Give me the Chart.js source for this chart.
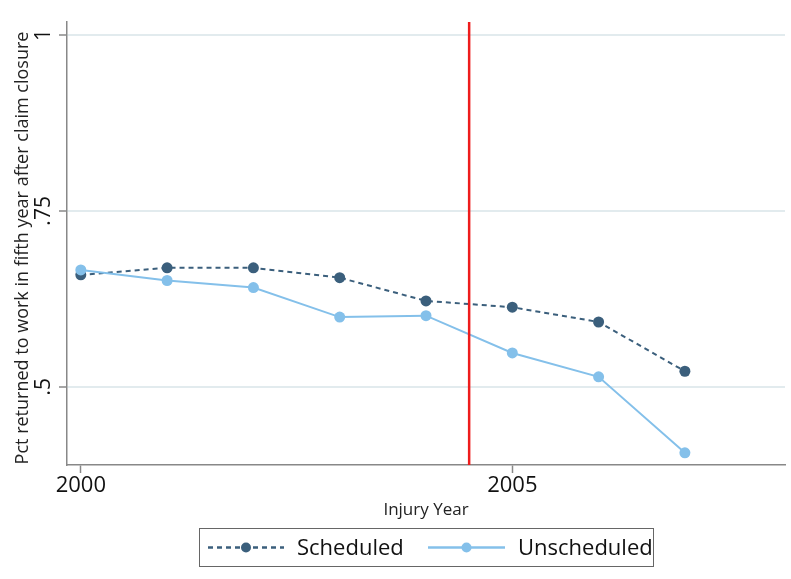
<!DOCTYPE html>
<html>
<head>
<meta charset="utf-8">
<script src="https://cdn.jsdelivr.net/npm/chart.js@4/dist/chart.umd.min.js"></script>
<style>
  body { margin: 0; background: #fff; }
  canvas { display: block; }
</style>
</head>
<body>
<canvas id="rtwChart" width="791" height="579"></canvas>
<script>
const years = [2000, 2001, 2002, 2003, 2004, 2005, 2006, 2007];
const scheduled = [0.659, 0.669, 0.669, 0.655, 0.622, 0.613, 0.592, 0.522];
const unscheduled = [0.666, 0.651, 0.641, 0.599, 0.601, 0.548, 0.514, 0.406];
const yTicks = [0.5, 0.75, 1];
const yTickLabels = ['.5', '.75', '1'];
const xTicks = [2000, 2005];
const cutoffYear = 2004.5;

const yMin = 0.3887, yMax = 1.0185;
const darkBlue = '#3b5f7c';
const lightBlue = '#84c0ea';
const FONT = '"Open Sans", "DejaVu Sans", sans-serif';

// rotated y tick labels, y title and the boxed legend
const extras = {
  id: 'extras',
  afterDraw(chart) {
    const ctx = chart.ctx;
    const y = chart.scales.y;
    ctx.save();
    ctx.fillStyle = '#111';
    ctx.textAlign = 'center';
    ctx.textBaseline = 'middle';
    ctx.font = '21px ' + FONT;
    yTicks.forEach((v, i) => {
      ctx.save();
      ctx.translate(44, y.getPixelForValue(v));
      ctx.rotate(-Math.PI / 2);
      ctx.fillText(yTickLabels[i], 0, 0);
      ctx.restore();
    });
    ctx.font = '18px ' + FONT;
    ctx.fillStyle = '#222';
    ctx.save();
    ctx.translate(23, 248);
    ctx.rotate(-Math.PI / 2);
    ctx.fillText('Pct returned to work in fifth year after claim closure', 0, 0);
    ctx.restore();

    // legend
    const box = { x: 199.5, y: 528.5, w: 454, h: 38 };
    ctx.strokeStyle = '#666';
    ctx.lineWidth = 1;
    ctx.strokeRect(box.x, box.y, box.w, box.h);
    const cy = box.y + box.h / 2;
    const entries = [
      { label: 'Scheduled', color: darkBlue, dash: [5, 4], x0: 208, x1: 284, tx: 297 },
      { label: 'Unscheduled', color: lightBlue, dash: [], x0: 428, x1: 505, tx: 518 }
    ];
    entries.forEach(e => {
      ctx.strokeStyle = e.color;
      ctx.lineWidth = 2.5;
      ctx.setLineDash(e.dash);
      ctx.beginPath();
      ctx.moveTo(e.x0, cy);
      ctx.lineTo(e.x1, cy);
      ctx.stroke();
      ctx.setLineDash([]);
      ctx.fillStyle = e.color;
      ctx.beginPath();
      ctx.arc((e.x0 + e.x1) / 2, cy, 5, 0, Math.PI * 2);
      ctx.fill();
      ctx.fillStyle = '#111';
      ctx.textAlign = 'left';
      ctx.font = '22px ' + FONT;
      ctx.fillText(e.label, e.tx, cy + 1);
    });
    ctx.restore();
  }
};

new Chart(document.getElementById('rtwChart'), {
  type: 'line',
  data: {
    datasets: [
      {
        label: 'cutoff',
        data: [{ x: cutoffYear, y: yMin }, { x: cutoffYear, y: yMax }],
        borderColor: '#ee1c1c',
        borderWidth: 2.5,
        pointRadius: 0,
        order: 0
      },
      {
        label: 'Unscheduled',
        data: years.map((yr, i) => ({ x: yr, y: unscheduled[i] })),
        borderColor: lightBlue,
        backgroundColor: lightBlue,
        borderWidth: 2,
        pointRadius: 5.5,
        pointBorderWidth: 0,
        tension: 0,
        order: 1
      },
      {
        label: 'Scheduled',
        data: years.map((yr, i) => ({ x: yr, y: scheduled[i] })),
        borderColor: darkBlue,
        backgroundColor: darkBlue,
        borderWidth: 2,
        borderDash: [5, 4],
        pointRadius: 5.5,
        pointBorderWidth: 0,
        tension: 0,
        order: 2
      }
    ]
  },
  options: {
    responsive: false,
    animation: false,
    layout: { padding: { top: 22, right: 6, left: 0, bottom: 59 } },
    plugins: { legend: { display: false }, tooltip: { enabled: false } },
    scales: {
      x: {
        type: 'linear',
        min: 1999.84,
        max: 2008.16,
        afterBuildTicks: s => { s.ticks = xTicks.map(v => ({ value: v })); },
        afterFit: s => { s.height = 55; },
        grid: { drawOnChartArea: false, tickLength: 8, tickColor: '#888', tickWidth: 1.5 },
        border: { color: '#888', width: 1.5 },
        ticks: {
          font: { size: 22, family: FONT },
          color: '#111',
          padding: 0,
          maxRotation: 0,
          callback: v => String(v)
        },
        title: {
          display: true,
          text: 'Injury Year',
          font: { size: 17, family: FONT },
          color: '#222',
          padding: { top: 0, bottom: 0 }
        }
      },
      y: {
        min: yMin,
        max: yMax,
        afterBuildTicks: s => { s.ticks = yTicks.map(v => ({ value: v })); },
        afterFit: s => { s.width = 67; },
        grid: { color: '#e2ebee', lineWidth: 2, tickLength: 8, tickColor: '#888', tickWidth: 1.5 },
        border: { color: '#888', width: 1.5 },
        ticks: { display: false }
      }
    }
  },
  plugins: [extras]
});
</script>
</body>
</html>
